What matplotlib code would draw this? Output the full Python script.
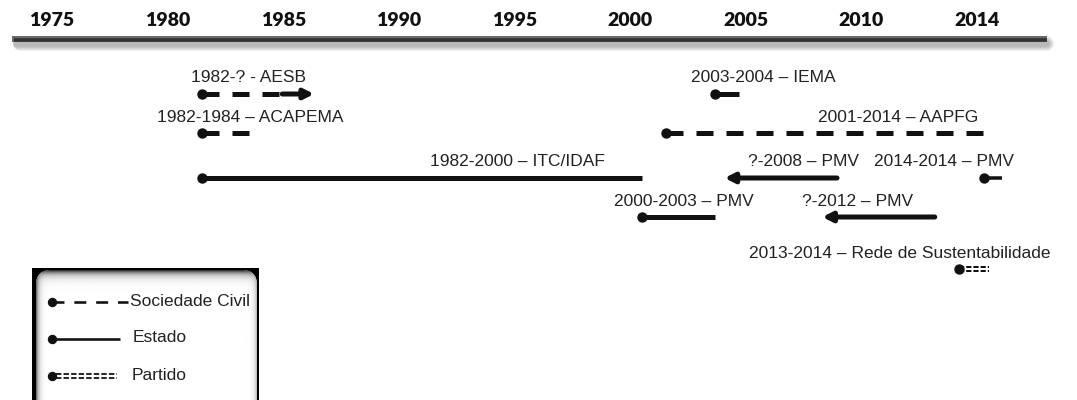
import matplotlib
matplotlib.use('Agg')
import matplotlib.pyplot as plt
import matplotlib.transforms as mtransforms
from matplotlib.patches import FancyBboxPatch, Rectangle
import numpy as np

# ---------------- data ----------------
header_labels = ['1975', '1980', '1985', '1990', '1995', '2000', '2005', '2010', '2014']

event_labels = ['1982-? - AESB',
                '1982-1984 – ACAPEMA',
                '1982-2000 – ITC/IDAF',
                '2003-2004 – IEMA',
                '2001-2014 – AAPFG',
                '?-2008 – PMV',
                '2014-2014 – PMV',
                '2000-2003 – PMV',
                '?-2012 – PMV',
                '2013-2014 – Rede de Sustentabilidade']
start_year = [1982, 1982, 1982, 2003, 2001, None, 2014, 2000, None, 2013]
end_year = [None, 1984, 2000, 2004, 2014, 2008, 2014, 2003, 2012, 2014]
actor_type = ['civil', 'civil', 'estado', 'estado', 'civil',
              'estado', 'estado', 'estado', 'estado', 'partido']

legend_labels = ['Sociedade Civil', 'Estado', 'Partido']
legend_types = ['civil', 'estado', 'partido']

# ---------------- layout / style ----------------
W, H = 1077, 400
PT = 72 / 100.0            # points per pixel
INK = '#111111'
TXT = '#222222'
lane = [0, 1, 2, 0, 1, 2, 2, 3, 3, 4]
lane_y = [94, 133, 178, 217, 269]
label_dx = [-11, -45, 228, -24, 152, -89, -110, -28, -133, -210]
ARROW_YEARS = 4.6
STUB_YEARS = 0.75
LW = 5 * PT

fig = plt.figure(figsize=(W / 100, H / 100), dpi=100)
fig.patch.set_facecolor('white')

# pixel axes (decorations)
pax = fig.add_axes([0, 0, 1, 1])
pax.set_xlim(0, W); pax.set_ylim(H, 0); pax.axis('off')

# year axes (events)
ax = fig.add_axes([0, 0, 1, 1])
ax.set_xlim(1973.75, 2017.82); ax.set_ylim(H, 0); ax.axis('off')
ax.patch.set_alpha(0)

# header axes (evenly spaced year labels)
hax = fig.add_axes([0, 0, 1, 1])
hax.set_xlim(-0.45, 8.867); hax.set_ylim(H, 0); hax.axis('off')
hax.patch.set_alpha(0)

# ---- header ----
for i, lab in enumerate(header_labels):
    hax.text(i, 21, lab, ha='center', va='center', fontfamily=['Lato', 'DejaVu Sans'],
             fontweight='heavy', fontsize=14, color='#111111')

# header bar with soft shadow
for k in range(5):
    pax.plot([16 + k, 1046], [42.5, 42.5], color='black', lw=(7 + 2 * k) * PT,
             alpha=0.06, solid_capstyle='round', zorder=1)
pax.plot([12, 1047], [38.5, 38.5], color='#6a6a6a', lw=6 * PT, solid_capstyle='butt', zorder=2)
pax.plot([14, 1047], [40.0, 40.0], color='#333333', lw=3.5 * PT, solid_capstyle='butt', zorder=3)


def offset_trans(axis, dy_px):
    return axis.transData + mtransforms.ScaledTranslation(0, dy_px / 100.0, fig.dpi_scale_trans)


def draw_segment(axis, x0, x1, y, kind, lw, dash=(3.4, 2.6), pdash=(3.0, 1.4), plw=1.4 * PT, sep=2.2):
    if x1 <= x0:
        return
    if kind == 'estado':
        axis.plot([x0, x1], [y, y], color=INK, lw=lw, solid_capstyle='butt', zorder=2)
    elif kind == 'civil':
        axis.plot([x0, x1], [y, y], color=INK, lw=lw, dashes=dash,
                  dash_capstyle='butt', zorder=2)
    else:
        for d in (-sep, sep):
            axis.plot([x0, x1], [y, y], color=INK, lw=plw, dashes=pdash,
                      dash_capstyle='butt', transform=offset_trans(axis, d), zorder=2)


def draw_arrow(axis, base, tip, y, lw):
    axis.annotate('', xy=(tip, y), xytext=(base, y),
                  arrowprops=dict(arrowstyle='-|>,head_length=0.55,head_width=0.28',
                                  color=INK, lw=lw, shrinkA=0, shrinkB=0,
                                  mutation_scale=10), zorder=3)


# ---- events ----
for i, text in enumerate(event_labels):
    y = lane_y[lane[i]]
    s, e, kind = start_year[i], end_year[i], actor_type[i]
    if s is None:
        tip = e - ARROW_YEARS
        draw_arrow(ax, e, tip, y, LW)
        anchor = e
    elif e is None:
        tip = s + ARROW_YEARS
        draw_segment(ax, s, tip - 1.3, y, kind, LW)
        draw_arrow(ax, tip - 1.3, tip, y, LW)
        ax.plot(s, y, 'o', ms=9 * PT, color=INK, zorder=4)
        anchor = s
    else:
        e_draw = e if e > s else s + STUB_YEARS
        if kind == 'partido':
            draw_segment(ax, s, e_draw + 0.2, y, kind, LW, pdash=(2.6, 1.0), plw=2.0 * PT, sep=2.3)
        else:
            draw_segment(ax, s, e_draw, y, kind, LW if e > s else 3.5 * PT)
        ax.plot(s, y, 'o', ms=9 * PT, color=INK, zorder=4)
        anchor = s
    ax.annotate(text, xy=(anchor, y), xytext=(label_dx[i], 16), textcoords='offset pixels',
                ha='left', va='center', fontsize=12.5,
                fontfamily=['Liberation Sans', 'DejaVu Sans'], color=TXT, zorder=5)

# ---- legend box ----
pax.add_patch(Rectangle((32, 268), 227, 140, facecolor='black', edgecolor='none', zorder=5))
inner = FancyBboxPatch((36, 270), 221, 150, boxstyle='round,pad=0,rounding_size=15',
                       facecolor='white', edgecolor='none', zorder=6)
pax.add_patch(inner)
gx = np.linspace(36, 257, 222)
gy = np.linspace(270, 420, 151)
GX, GY = np.meshgrid(gx, gy)
shade = 1 - 0.8 * np.exp(-(GY - 270) / 4.0) - 0.55 * np.exp(-(GX - 36) / 2.5) \
        - 0.25 * np.exp(-(257 - GX) / 2.5)
shade = np.clip(shade, 0, 1)
im = pax.imshow(shade, extent=(36, 257, 420, 270), cmap='gray', vmin=0, vmax=1,
                interpolation='bilinear', aspect='auto', zorder=7)
im.set_clip_path(inner)
pax.set_xlim(0, W); pax.set_ylim(H, 0)

leg_y = [302, 339, 376]
leg_end = [128, 120, 117]
leg_text_x = [130, 133, 132]
for j, (lab, kind) in enumerate(zip(legend_labels, legend_types)):
    y = leg_y[j]
    if kind == 'civil':
        pax.plot([52, leg_end[j]], [y, y], color=INK, lw=2.6 * PT, dashes=(4.6, 3.8),
                 dash_capstyle='butt', zorder=8)
    elif kind == 'estado':
        pax.plot([52, leg_end[j]], [y, y], color=INK, lw=2.6 * PT, solid_capstyle='butt', zorder=8)
    else:
        for d in (-2.2, 2.2):
            pax.plot([56, leg_end[j]], [y, y], color=INK, lw=1.8 * PT, dashes=(3.0, 1.2),
                     dash_capstyle='butt', transform=offset_trans(pax, d), zorder=8)
    pax.plot(52, y, 'o', ms=8 * PT, color=INK, zorder=9)
    pax.text(leg_text_x[j], y - 1, lab, ha='left', va='center', fontsize=12.5,
             fontfamily=['Liberation Sans', 'DejaVu Sans'], color=TXT, zorder=9)

fig.savefig('out.png', dpi=100, facecolor='white')
